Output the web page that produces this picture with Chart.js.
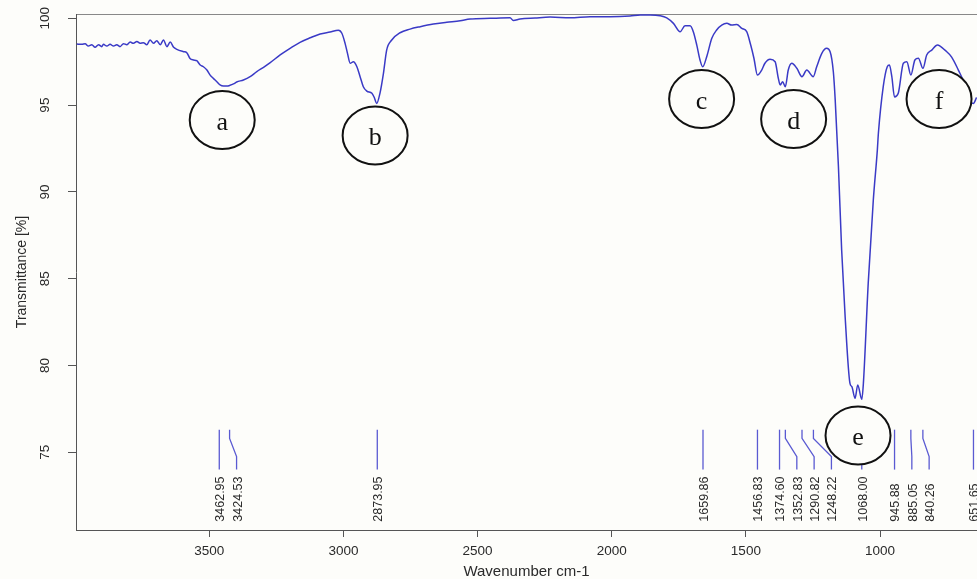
<!DOCTYPE html>
<html>
<head>
<meta charset="utf-8">
<script src="https://cdn.jsdelivr.net/npm/chart.js@4/dist/chart.umd.min.js"></script>
<style>
  html, body { margin: 0; padding: 0; background: #fdfdfa; }
  #wrap { width: 977px; height: 579px; }
</style>
</head>
<body>
<div id="wrap"><canvas id="ftir" width="977" height="579"></canvas></div>
<script>
// FTIR spectrum: wavenumber (cm-1) and transmittance (%)
const wavenumber = [
  3994, 3975, 3963, 3951, 3938, 3926, 3913, 3901, 3895, 3882, 3870, 3857, 3845, 3833, 3820, 3808,
  3795, 3783, 3770, 3758, 3746, 3733, 3721, 3708, 3696, 3683, 3671, 3658, 3646, 3633, 3621, 3596,
  3584, 3572, 3559, 3547, 3534, 3522, 3509, 3497, 3485, 3472, 3460, 3447, 3435, 3423, 3410, 3398,
  3373, 3348, 3323, 3298, 3273, 3236, 3199, 3162, 3124, 3087, 3050, 3019, 3006, 2994, 2985, 2975,
  2963, 2950, 2938, 2926, 2913, 2894, 2886, 2876, 2864, 2851, 2839, 2820, 2789, 2752, 2714, 2665,
  2615, 2565, 2528, 2453, 2379, 2367, 2342, 2286, 2230, 2155, 2081, 2006, 1932, 1894, 1857, 1820,
  1795, 1770, 1745, 1727, 1708, 1696, 1683, 1671, 1661, 1646, 1627, 1609, 1590, 1571, 1553, 1534,
  1515, 1497, 1482, 1470, 1457, 1441, 1429, 1410, 1391, 1379, 1372, 1363, 1353, 1342, 1329, 1310,
  1291, 1273, 1249, 1236, 1217, 1199, 1186, 1174, 1167, 1155, 1143, 1130, 1112, 1105, 1093, 1083,
  1068, 1062, 1044, 1025, 1010, 1006, 988, 973, 965, 956, 946, 932, 913, 900, 885, 870,
  857, 840, 826, 807, 786, 776, 758, 733, 708, 683, 665, 652, 640
];
const transmittance = [
  98.52, 98.50, 98.54, 98.40, 98.48, 98.33, 98.48, 98.37, 98.50, 98.40, 98.50, 98.40, 98.48, 98.37, 98.54, 98.48,
  98.63, 98.56, 98.67, 98.56, 98.60, 98.48, 98.75, 98.56, 98.71, 98.48, 98.75, 98.37, 98.63, 98.33, 98.21, 98.08,
  98.02, 97.69, 97.60, 97.56, 97.31, 97.21, 97.02, 96.73, 96.54, 96.35, 96.16, 96.10, 96.10, 96.14, 96.22, 96.33,
  96.45, 96.64, 96.93, 97.18, 97.45, 97.89, 98.27, 98.62, 98.88, 99.10, 99.21, 99.31, 99.14, 98.56, 97.98, 97.41,
  97.50, 97.21, 96.64, 96.06, 95.81, 95.68, 95.47, 95.10, 95.68, 96.83, 98.17, 98.75, 99.17, 99.38, 99.52, 99.67,
  99.77, 99.86, 99.96, 100.00, 100.03, 99.88, 99.96, 100.02, 100.07, 100.03, 100.09, 100.09, 100.13, 100.19, 100.19, 100.15,
  100.03, 99.71, 99.23, 99.57, 99.57, 99.23, 98.46, 97.60, 97.21, 97.79, 98.85, 99.33, 99.61, 99.71, 99.61, 99.65,
  99.42, 99.23, 98.46, 97.70, 96.73, 97.02, 97.41, 97.64, 97.50, 96.54, 96.16, 96.35, 96.06, 97.02, 97.41, 97.12,
  96.64, 97.02, 96.64, 97.21, 97.98, 98.27, 98.08, 96.92, 95.29, 91.45, 86.65, 82.81, 78.97, 78.78, 78.11, 78.88,
  78.05, 78.97, 84.73, 89.53, 92.41, 93.39, 96.06, 97.21, 97.31, 96.64, 95.47, 95.68, 97.41, 97.50, 96.73, 97.60,
  97.70, 97.12, 97.89, 98.17, 98.46, 98.40, 98.17, 97.77, 97.02, 96.16, 95.20, 95.10, 95.44
];

// Picked absorption peaks
const peakWavenumbers = [3462.95, 3424.53, 2873.95, 1659.86, 1456.83, 1374.60, 1352.83, 1290.82, 1248.22, 1068.00, 945.88, 885.05, 840.26, 651.65];
const peakLabels = ['3462.95', '3424.53', '2873.95', '1659.86', '1456.83', '1374.60', '1352.83', '1290.82', '1248.22', '1068.00', '945.88', '885.05', '840.26', '651.65'];

// Band letters marked on the spectrum
const bandLetters = ['a', 'b', 'c', 'd', 'e', 'f'];

// Axis ticks
const xTickValues = [3500, 3000, 2500, 2000, 1500, 1000];
const yTickValues = [75, 80, 85, 90, 95, 100];

// ---- layout ----
const X_MIN = 638.5, X_MAX = 3997;
const Y_MIN = 70.52, Y_MAX = 100.25;
const letterCentres = [[3452, 94.14], [2882, 93.25], [1665, 95.35], [1322, 94.2], [1082, 75.97], [780, 95.35]];
const leader = { top: 76.3, bend1: 75.8, bend2: 74.75, bottom: 74.0, text: 71.0 };
const LABEL_GAP = 17.3;

const points = wavenumber.map((w, i) => ({ x: w, y: transmittance[i] }));

const peakMarks = {
  id: 'peakMarks',
  afterDatasetsDraw(chart) {
    const { ctx } = chart;
    const xs = chart.scales.x, ys = chart.scales.y;
    const yTop = ys.getPixelForValue(leader.top);
    const yB1 = ys.getPixelForValue(leader.bend1);
    const yB2 = ys.getPixelForValue(leader.bend2);
    const yBot = ys.getPixelForValue(leader.bottom);
    const yTxt = ys.getPixelForValue(leader.text);

    // spread crowded labels to the right
    const px = peakWavenumbers.map(w => xs.getPixelForValue(w));
    const pos = [];
    px.forEach((p, i) => { pos.push(i === 0 ? p : Math.max(p, pos[i - 1] + LABEL_GAP)); });

    ctx.save();
    ctx.strokeStyle = '#5a5ad2';
    ctx.lineWidth = 1.3;
    px.forEach((p, i) => {
      ctx.beginPath();
      ctx.moveTo(p, yTop);
      ctx.lineTo(p, yB1);
      ctx.lineTo(pos[i], yB2);
      ctx.lineTo(pos[i], yBot);
      ctx.stroke();
    });
    ctx.fillStyle = '#2a2a2a';
    ctx.font = '12.5px "Liberation Sans", Arial, sans-serif';
    ctx.textAlign = 'left';
    ctx.textBaseline = 'middle';
    pos.forEach((p, i) => {
      ctx.save();
      ctx.translate(p + 1.5, yTxt);
      ctx.rotate(-Math.PI / 2);
      ctx.fillText(peakLabels[i], 0, 0);
      ctx.restore();
    });

    // lettered ellipses
    ctx.lineWidth = 2;
    ctx.strokeStyle = '#111';
    ctx.font = '26px "Liberation Serif", "Times New Roman", serif';
    ctx.textAlign = 'center';
    ctx.textBaseline = 'middle';
    letterCentres.forEach(([w, t], i) => {
      const cx = xs.getPixelForValue(w), cy = ys.getPixelForValue(t);
      ctx.beginPath();
      ctx.ellipse(cx, cy, 32.5, 29, 0, 0, Math.PI * 2);
      ctx.fillStyle = '#fdfdfa';
      ctx.fill();
      ctx.stroke();
      ctx.fillStyle = '#111';
      ctx.fillText(bandLetters[i], cx, cy + 3);
    });
    ctx.restore();
  }
};

const axisColor = '#555';
const tickFont = { family: '"Liberation Sans", Arial, sans-serif', size: 13.5 };
const noEdgePadding = s => { s.paddingTop = 0; s.paddingBottom = 0; s.paddingLeft = 0; s.paddingRight = 0; };

new Chart(document.getElementById('ftir'), {
  type: 'line',
  data: {
    datasets: [{
      data: points,
      borderColor: '#3a3ac6',
      borderWidth: 1.5,
      pointRadius: 0,
      cubicInterpolationMode: 'monotone',
      fill: false
    }]
  },
  options: {
    responsive: false,
    animation: false,
    events: [],
    layout: { padding: 0 },
    plugins: { legend: { display: false }, tooltip: { enabled: false } },
    scales: {
      x: {
        type: 'linear',
        position: 'bottom',
        reverse: true,
        min: X_MIN,
        max: X_MAX,
        afterBuildTicks: s => { s.ticks = xTickValues.map(v => ({ value: v })); },
        afterFit: s => { s.height = 49; noEdgePadding(s); },
        grid: { drawOnChartArea: false, drawTicks: true, tickLength: 7, color: axisColor },
        border: { display: true, color: axisColor, width: 1 },
        ticks: { font: tickFont, color: '#2a2a2a', padding: 6, maxRotation: 0, autoSkip: false, callback: v => String(v) },
        title: {
          display: true,
          text: 'Wavenumber cm-1',
          color: '#2a2a2a',
          font: { family: '"Liberation Sans", Arial, sans-serif', size: 15, lineHeight: 1 },
          padding: { top: 0, bottom: 0 }
        }
      },
      xTop: {
        type: 'linear',
        position: 'top',
        min: X_MIN,
        max: X_MAX,
        reverse: true,
        afterFit: s => { s.height = 14; noEdgePadding(s); },
        grid: { display: false },
        ticks: { display: false },
        border: { display: true, color: '#888', width: 1 }
      },
      y: {
        type: 'linear',
        position: 'left',
        min: Y_MIN,
        max: Y_MAX,
        afterBuildTicks: s => { s.ticks = yTickValues.map(v => ({ value: v })); },
        afterFit: s => { s.width = 76; noEdgePadding(s); },
        grid: { drawOnChartArea: false, drawTicks: true, tickLength: 8, color: axisColor },
        border: { display: true, color: axisColor, width: 1 },
        ticks: { font: tickFont, color: '#2a2a2a', padding: 11, minRotation: 90, maxRotation: 90, crossAlign: 'center', autoSkip: false },
        title: {
          display: true,
          text: 'Transmittance [%]',
          color: '#2a2a2a',
          font: { family: '"Liberation Sans", Arial, sans-serif', size: 14, lineHeight: 1 },
          padding: { top: 15, bottom: 0 }
        }
      }
    }
  },
  plugins: [peakMarks]
});
</script>
</body>
</html>
